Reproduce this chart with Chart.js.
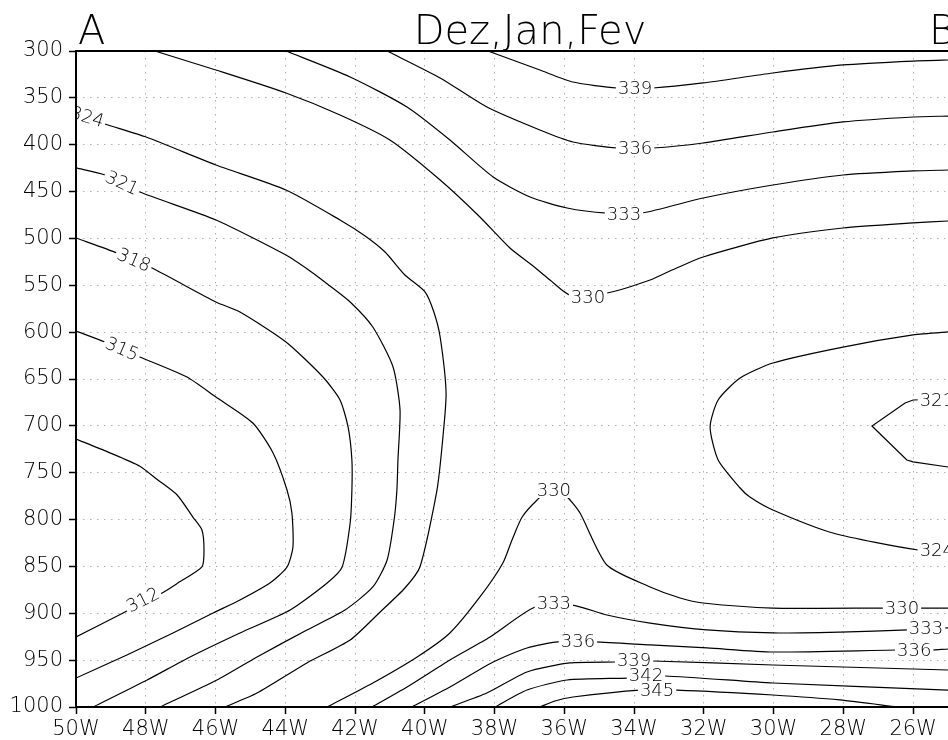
<!DOCTYPE html>
<html>
<head>
<meta charset="utf-8">
<script src="https://cdn.jsdelivr.net/npm/chart.js@4.4.1/dist/chart.umd.min.js"></script>
<style>
  body { margin: 0; background: #fff; }
  #wrap { width: 948px; height: 740px; }
</style>
</head>
<body>
<div id="wrap"><canvas id="chart"></canvas></div>
<script>
// axis ticks (longitude in degrees east, pressure in hPa)
const lonTicks = [-50, -48, -46, -44, -42, -40, -38, -36, -34, -32, -30, -28, -26];
const lonLabels = ['50W', '48W', '46W', '44W', '42W', '40W', '38W', '36W', '34W', '32W', '30W', '28W', '26W'];
const presTicks = [300, 350, 400, 450, 500, 550, 600, 650, 700, 750, 800, 850, 900, 950, 1000];

// contour lines: [lon, pressure]
const c312 = [[-50,714],[-49.08,728],[-48.17,743],[-47.68,757],[-47.10,773.8],[-46.65,797.3],[-46.39,811.1],[-46.33,832.5],[-46.39,850.6],[-47.08,867.7],[-47.53,878.3],[-48.65,899.7],[-50,925.3]];
const c315 = [[-50,598.8],[-49.17,610.5],[-48.17,626.5],[-46.82,647.9],[-45.99,669.2],[-44.93,697],[-44.35,729],[-43.95,768.4],[-43.81,793],[-43.78,829.3],[-43.95,850.6],[-44.44,867.7],[-45.30,885.8],[-46.07,899.7],[-47.22,921],[-48.54,944.5],[-50,969.1]];
const c318 = [[-50,499.5],[-48.82,515.5],[-47.82,531.6],[-45.99,567.8],[-45.30,578.5],[-43.98,610.5],[-42.92,647.9],[-42.43,672.4],[-42.20,701.2],[-42.09,736.4],[-42.09,768.4],[-42.14,803.7],[-42.37,850.6],[-42.80,867.7],[-43.86,896.5],[-45.30,921],[-46.73,946.6],[-47.96,971.2],[-49.51,1000]];
const c321 = [[-50,424.8],[-49.17,432.3],[-48.17,450.5],[-45.99,480.3],[-43.98,517.7],[-43.29,534.7],[-42.72,550.7],[-42.14,567.8],[-41.49,594.5],[-40.91,637.2],[-40.71,683.1],[-40.77,736.4],[-40.80,768.4],[-40.88,800.5],[-41.08,843.1],[-41.49,871.9],[-42.29,896.5],[-43.38,917.8],[-44.81,946.6],[-45.96,971.2],[-47.59,1000]];
const c324 = [[-50,367.2],[-49.17,377.9],[-47.99,391.8],[-45.99,421.6],[-43.98,448.3],[-42.43,480.3],[-41.71,497.4],[-41.14,514.5],[-40.57,539.0],[-39.99,557.2],[-39.74,578.5],[-39.56,605.2],[-39.39,664.9],[-39.48,711.9],[-39.65,768.4],[-40.14,850.6],[-40.57,873],[-41.28,898.6],[-42.14,928.5],[-43.38,953],[-44.81,985.1],[-45.73,1000]];
const c330top = [[-47.74,300],[-45.99,320.3],[-43.98,344.8],[-42.43,368.3],[-41.0,395],[-39.56,437.7],[-38.42,477.1],[-37.56,510.2],[-36.93,528.4],[-36.41,544.4],[-35.84,560.4],[-34.78,558.2],[-33.54,544.4],[-32.91,533.7],[-32.02,519.8],[-30.02,499.5],[-28.01,488.9],[-26,483.5],[-25,481.4],[-24.8,481]];
const c333top = [[-43.98,300],[-42.14,327.7],[-40.51,359.8],[-39.28,395],[-38.04,434.5],[-36.98,455.8],[-35.92,467.5],[-34.78,472.9],[-33.77,472.9],[-32.02,456.9],[-30.02,443],[-28.01,432.3],[-26,428],[-25,427],[-24.8,426.8]];
const c336top = [[-41.08,300],[-39.56,328.8],[-38.22,359.8],[-36.70,384.3],[-35.75,397.1],[-34.49,403.5],[-33.46,403.5],[-32.02,398.2],[-30.02,386.4],[-28.01,375.7],[-26,370.4],[-25,369.4],[-24.8,369.2]];
const c339top = [[-38.19,300],[-36.70,320.3],[-35.75,333.1],[-34.49,339.5],[-33.46,339.5],[-32.02,334.1],[-30.02,323.5],[-28.01,314.9],[-26,310.7],[-25,309.6],[-24.8,309.5]];
const c324east = [[-24.8,599.5],[-25,599.8],[-26,603],[-28.01,615.9],[-30.02,632.9],[-30.96,648.9],[-31.59,672.4],[-31.82,701.2],[-31.59,736.4],[-30.96,766.3],[-30.68,775.9],[-30.02,789.8],[-28.30,814.3],[-25.86,832.5],[-24.8,833.5]];
const c321east = [[-24.8,671],[-26,672.4],[-26.23,675.6],[-27.18,700.2],[-26.18,736.4],[-26,738.5],[-25,743.9],[-24.8,744.5]];
const c330low = [[-24.8,894.4],[-25,894.4],[-26.81,894.4],[-30.02,894.4],[-32.02,889],[-32.68,883.7],[-33.54,871.9],[-34.78,848.5],[-35.55,793],[-35.92,775.9],[-36.35,766.3],[-36.78,779.1],[-37.21,797.3],[-37.50,821.8],[-37.76,846.3],[-38.42,882.6],[-39.28,921],[-40.22,946.6],[-41.49,974.4],[-42.80,1000]];
const c333low = [[-24.8,915.5],[-25.14,915.7],[-26.15,917.8],[-28.10,920],[-30.02,921],[-31.91,917.8],[-33.54,910.4],[-34.78,901.8],[-35.78,891.2],[-36.84,893.3],[-38.13,925.3],[-39.28,949.8],[-40.51,978.7],[-41.51,1000]];
const c336low = [[-24.8,938],[-25,938.1],[-25.46,939.2],[-26.46,939.2],[-30.02,941.3],[-31.91,937],[-33.54,933.8],[-35.12,930.6],[-36.18,930.6],[-37.07,937],[-38.04,952],[-39.28,978.7],[-40.37,1000]];
const c339low = [[-24.8,960.7],[-25,960.5],[-28.01,957.3],[-30.02,955.2],[-33.46,950.9],[-34.49,952],[-35.84,953],[-37.07,962.6],[-38.22,985.1],[-39.28,1000]];
const c342 = [[-24.8,982.5],[-25,981.9],[-30.02,974.4],[-33.11,966.9],[-34.17,969.1],[-35.92,971.2],[-37.07,981.9],[-37.99,1000]];
const c345 = [[-26.46,1000],[-28.10,992.5],[-30.02,987.2],[-32.77,981.9],[-33.83,981.9],[-35.75,989.3],[-36.27,993.6],[-36.70,1000]];

// contour labels: text, lon, pressure, angle (deg)
const contourLabels = [
  ['324', -49.68, 370.4, 17], ['321', -48.68, 440.9, 25], ['318', -48.34, 523.0, 23],
  ['315', -48.68, 618.0, 23], ['312', -48.08, 885.8, -27],
  ['339', -33.97, 339.5, 0], ['336', -33.97, 403.5, 0], ['333', -34.29, 474.0, 0],
  ['330', -35.32, 562.5, 0], ['330', -36.30, 768.4, 0], ['333', -36.30, 889.0, 0],
  ['336', -35.61, 929.6, 0], ['339', -34.00, 949.8, 0], ['342', -33.66, 965.8, 0],
  ['345', -33.34, 981.9, 0], ['330', -26.32, 894.4, 0], ['333', -25.63, 915.7, 0],
  ['336', -25.97, 939.2, 0], ['324', -25.32, 832.5, 0], ['321', -25.32, 672.4, 0]
];

const lines = [c312, c315, c318, c321, c324, c330top, c333top, c336top, c339top,
  c324east, c321east, c330low, c333low, c336low, c339low, c342, c345];

const FONT = '"DejaVu Sans", sans-serif';

const labelPlugin = {
  id: 'labelPlugin',
  afterDatasetsDraw(chart) {
    const { ctx, chartArea: a, scales: { x, y } } = chart;
    ctx.save();
    ctx.beginPath();
    ctx.rect(a.left, a.top, a.right - a.left, a.bottom - a.top);
    ctx.clip();
    ctx.font = '200 18px ' + FONT;
    ctx.textAlign = 'center';
    ctx.textBaseline = 'middle';
    contourLabels.forEach(([t, lon, p, rot]) => {
      const px = x.getPixelForValue(lon), py = y.getPixelForValue(p);
      const w = ctx.measureText(t).width + 4;
      ctx.save();
      ctx.translate(px, py);
      ctx.rotate(rot * Math.PI / 180);
      ctx.fillStyle = '#fff';
      ctx.fillRect(-w / 2, -8, w, 16);
      ctx.fillStyle = '#000';
      ctx.fillText(t, 0, 1);
      ctx.restore();
    });
    ctx.restore();

    // frame: left, top, bottom
    ctx.save();
    ctx.strokeStyle = '#000';
    ctx.lineWidth = 2;
    ctx.beginPath();
    ctx.moveTo(a.right + 2, a.top);
    ctx.lineTo(a.left, a.top);
    ctx.lineTo(a.left, a.bottom);
    ctx.lineTo(a.right + 2, a.bottom);
    ctx.stroke();
    ctx.restore();
  },
  afterDraw(chart) {
    const { ctx, chartArea: a } = chart;
    ctx.save();
    ctx.font = '200 40px ' + FONT;
    ctx.fillStyle = '#000';
    ctx.textBaseline = 'alphabetic';
    ctx.textAlign = 'left';
    ctx.fillText('A', a.left + 2, 44);
    ctx.fillText('B', 929, 44);
    ctx.textAlign = 'center';
    ctx.fillText('Dez,Jan,Fev', 530, 44);
    ctx.restore();
  }
};

new Chart(document.getElementById('chart'), {
  type: 'scatter',
  data: {
    datasets: lines.map(pts => ({
      data: pts.map(([lon, p]) => ({ x: lon, y: p })),
      showLine: true,
      borderColor: '#000',
      borderWidth: 1.2,
      pointRadius: 0,
      tension: pts === c321east ? 0 : 0.22
    }))
  },
  options: {
    responsive: true,
    maintainAspectRatio: false,
    animation: false,
    layout: { padding: { top: 51, right: 0, left: 0, bottom: 0 } },
    plugins: { legend: { display: false }, tooltip: { enabled: false }, title: { display: false } },
    scales: {
      x: {
        type: 'linear',
        min: -50,
        max: -25,
        afterBuildTicks: s => { s.ticks = lonTicks.map(v => ({ value: v })); },
        afterFit: s => { s.height = 33; },
        ticks: {
          autoSkip: false,
          maxRotation: 0,
          padding: 3,
          color: '#000',
          font: { family: FONT, size: 21, weight: 200 },
          callback: (v, i) => lonLabels[i]
        },
        grid: { color: '#b0b0b0', lineWidth: 1, tickLength: 7, tickColor: '#000', tickWidth: 1.5 },
        border: { display: false, dash: [1.5, 5.5] }
      },
      y: {
        type: 'linear',
        reverse: true,
        min: 300,
        max: 1000,
        afterBuildTicks: s => { s.ticks = presTicks.map(v => ({ value: v })); },
        afterFit: s => { s.width = 76; },
        ticks: {
          autoSkip: false,
          padding: 6,
          color: '#000',
          font: { family: FONT, size: 21, weight: 200 },
          callback: v => String(v)
        },
        grid: { color: '#b0b0b0', lineWidth: 1, tickLength: 7, tickColor: '#000', tickWidth: 1.5 },
        border: { display: false, dash: [1.5, 5.5] }
      }
    }
  },
  plugins: [labelPlugin]
});
</script>
</body>
</html>
